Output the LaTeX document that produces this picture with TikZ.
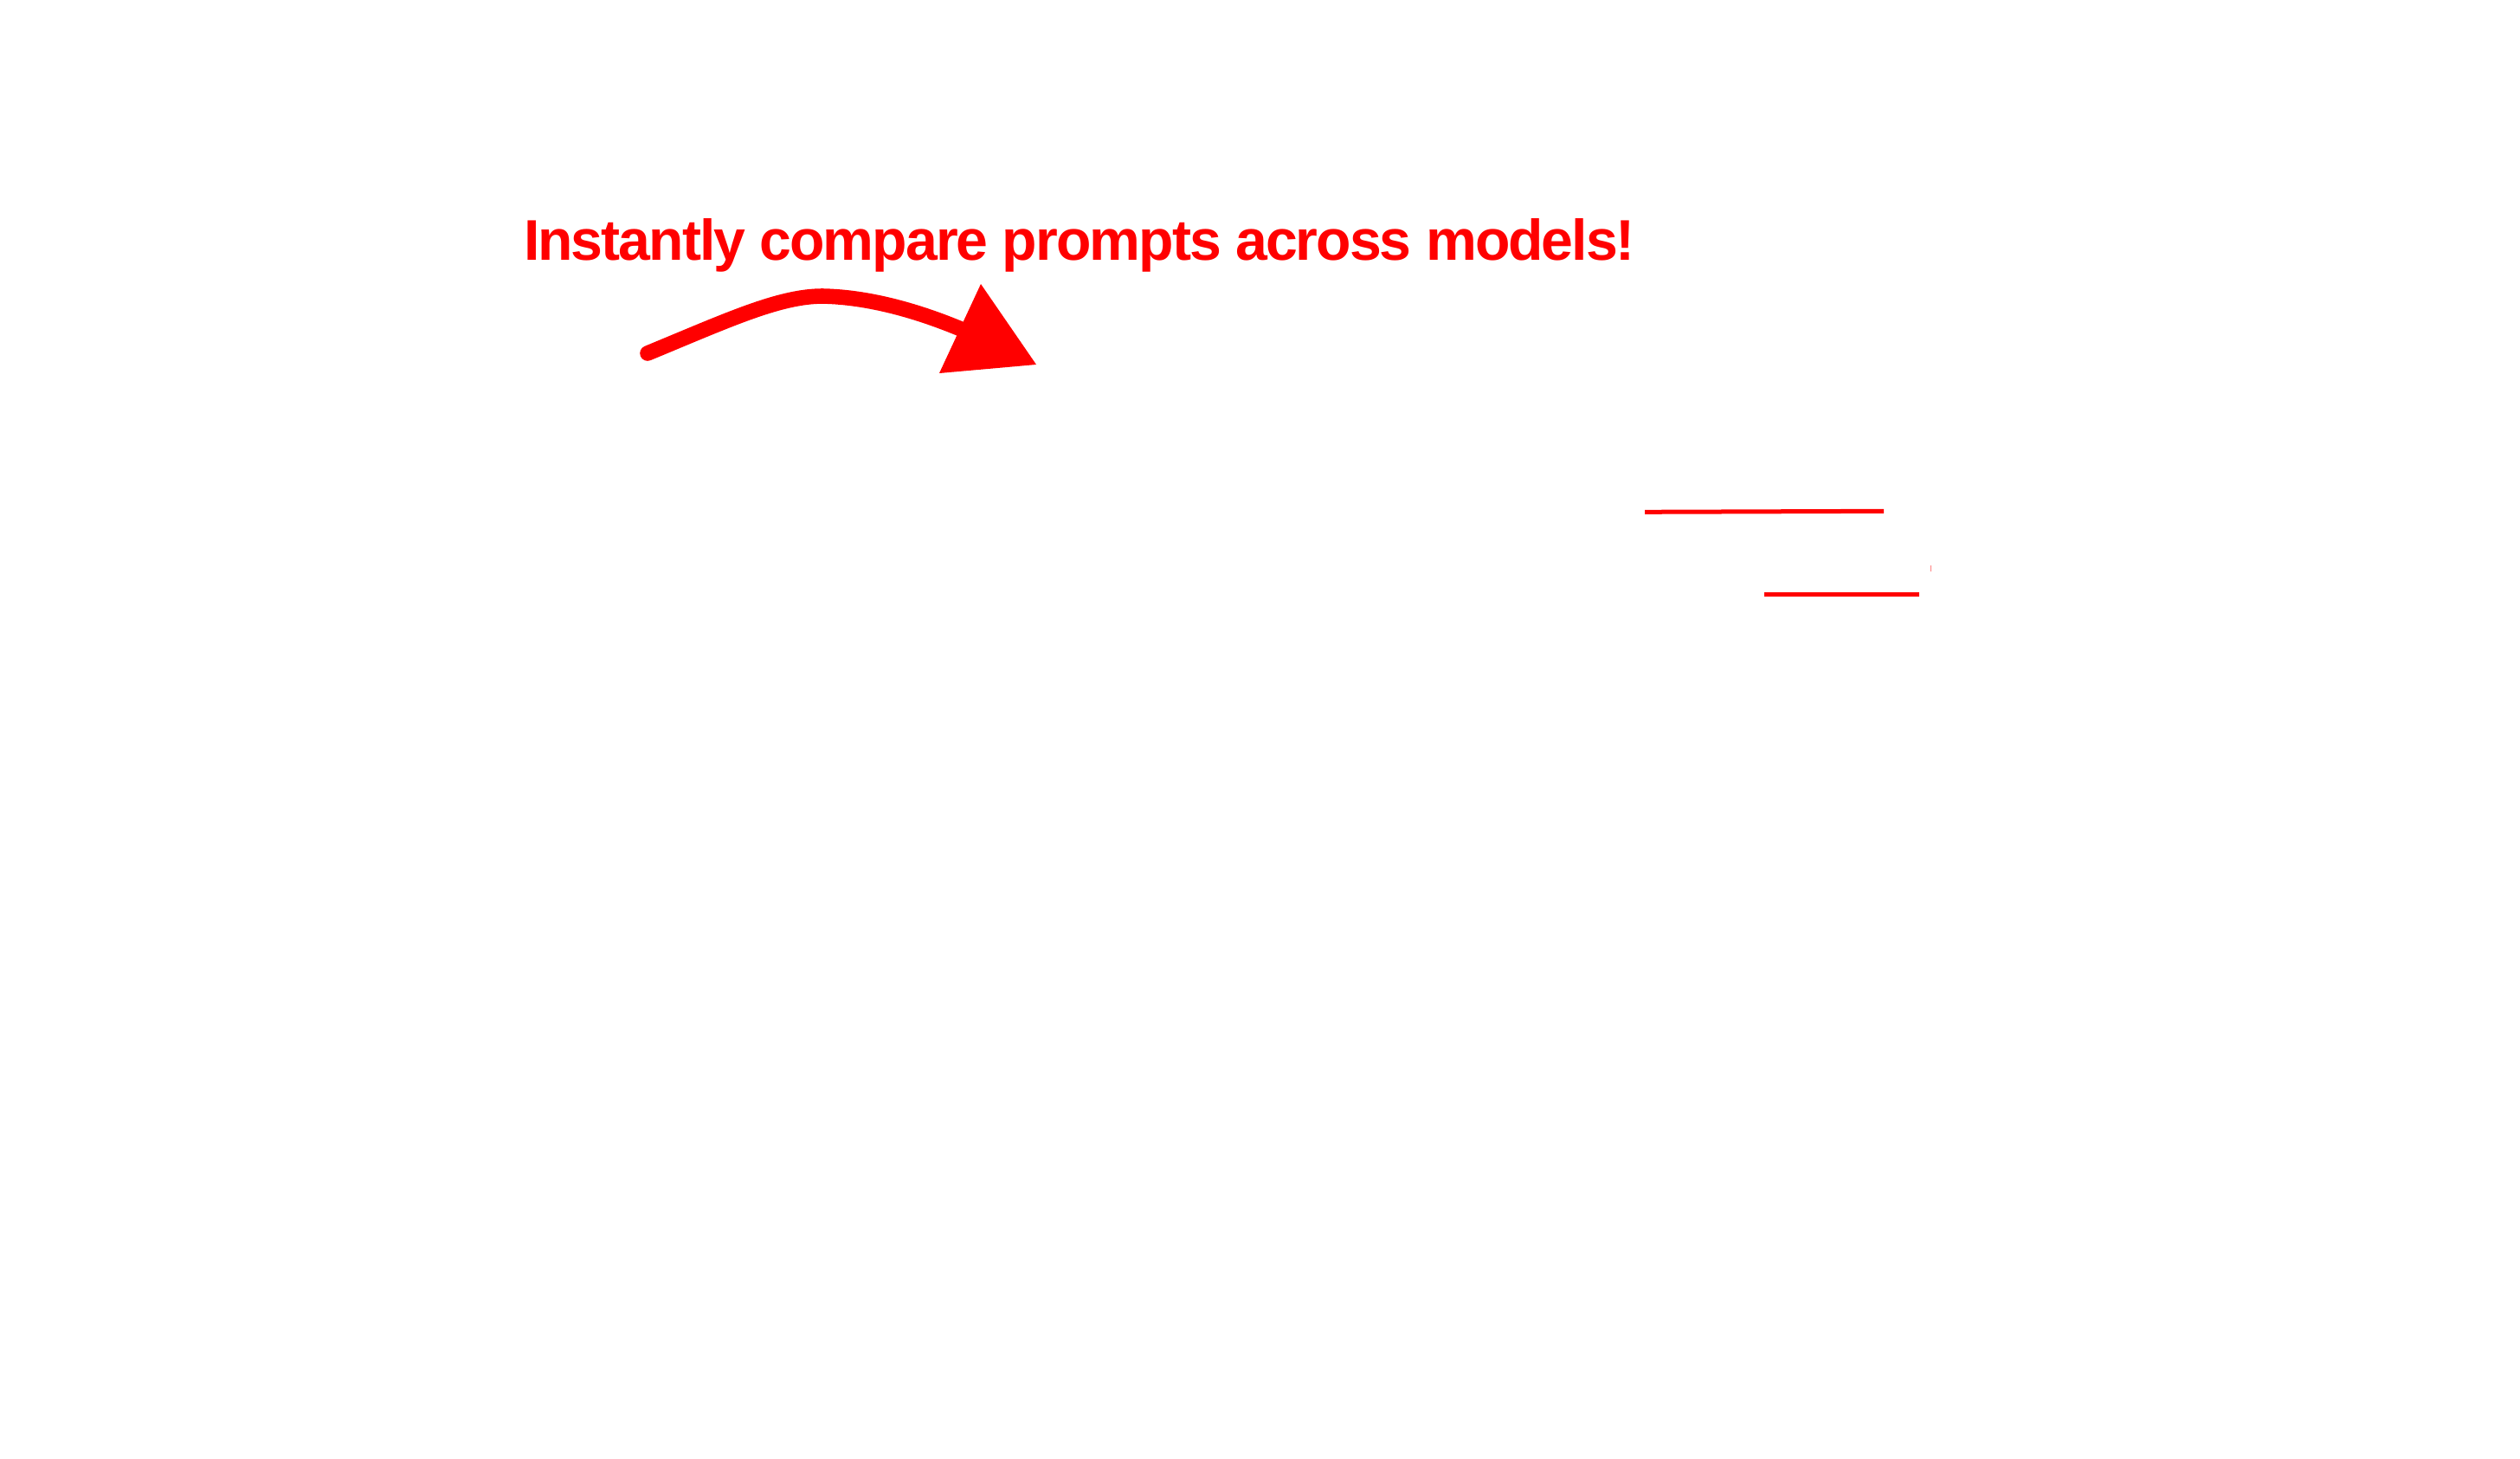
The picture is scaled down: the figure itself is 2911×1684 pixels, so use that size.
\documentclass[tikz,border=0pt]{standalone}
\usepackage{fontspec}
\setmainfont{Liberation Sans}
\newfontfamily\headfont[LetterSpace=-3]{Liberation Sans}
\usepackage{graphicx}
\begin{document}
\begin{tikzpicture}[x=0.25pt,y=-0.25pt,
  redline/.style={draw=red,line width=1.25pt},
  curvearrow/.style={draw=red,line width=4.4pt,line cap=round},
  headtri/.style={fill=red,draw=none},
  title/.style={inner sep=0pt,outer sep=0pt,anchor=base west,text=red}]
\fill[white] (0,0) rectangle (2911,1684);
\useasboundingbox (0,0) rectangle (2911,1684);
% title
\node[title] (ttl) at (605,300) {\resizebox{321pt}{12pt}{\headfont\bfseries Instantly compare prompts across models!}};
% curved arrow
\coordinate (as) at (748,408);
\coordinate (ap) at (950,342);
\coordinate (ab) at (1110,380);
\coordinate (ht) at (1133,328);
\coordinate (hr) at (1197,421);
\coordinate (hl) at (1085,431);
\draw[curvearrow] (as) .. controls (840,370) and (900,342) .. (ap)
  .. controls (1005,343) and (1062,360) .. (ab);
\fill[headtri] (ht) -- (hr) -- (hl) -- cycle;
% lines on the right
\coordinate (l1a) at (1900,591.3);
\coordinate (l1b) at (2176,590.3);
\coordinate (l2a) at (2038,686.5);
\coordinate (l2b) at (2217,686.5);
\draw[redline] (l1a) -- (l1b);
\draw[redline] (l2a) -- (l2b);
\coordinate (tka) at (2230.3,652.7);
\coordinate (tkb) at (2230.3,660);
\draw[draw=red,opacity=0.5,line width=0.3pt] (tka) -- (tkb);
\end{tikzpicture}
\end{document}
